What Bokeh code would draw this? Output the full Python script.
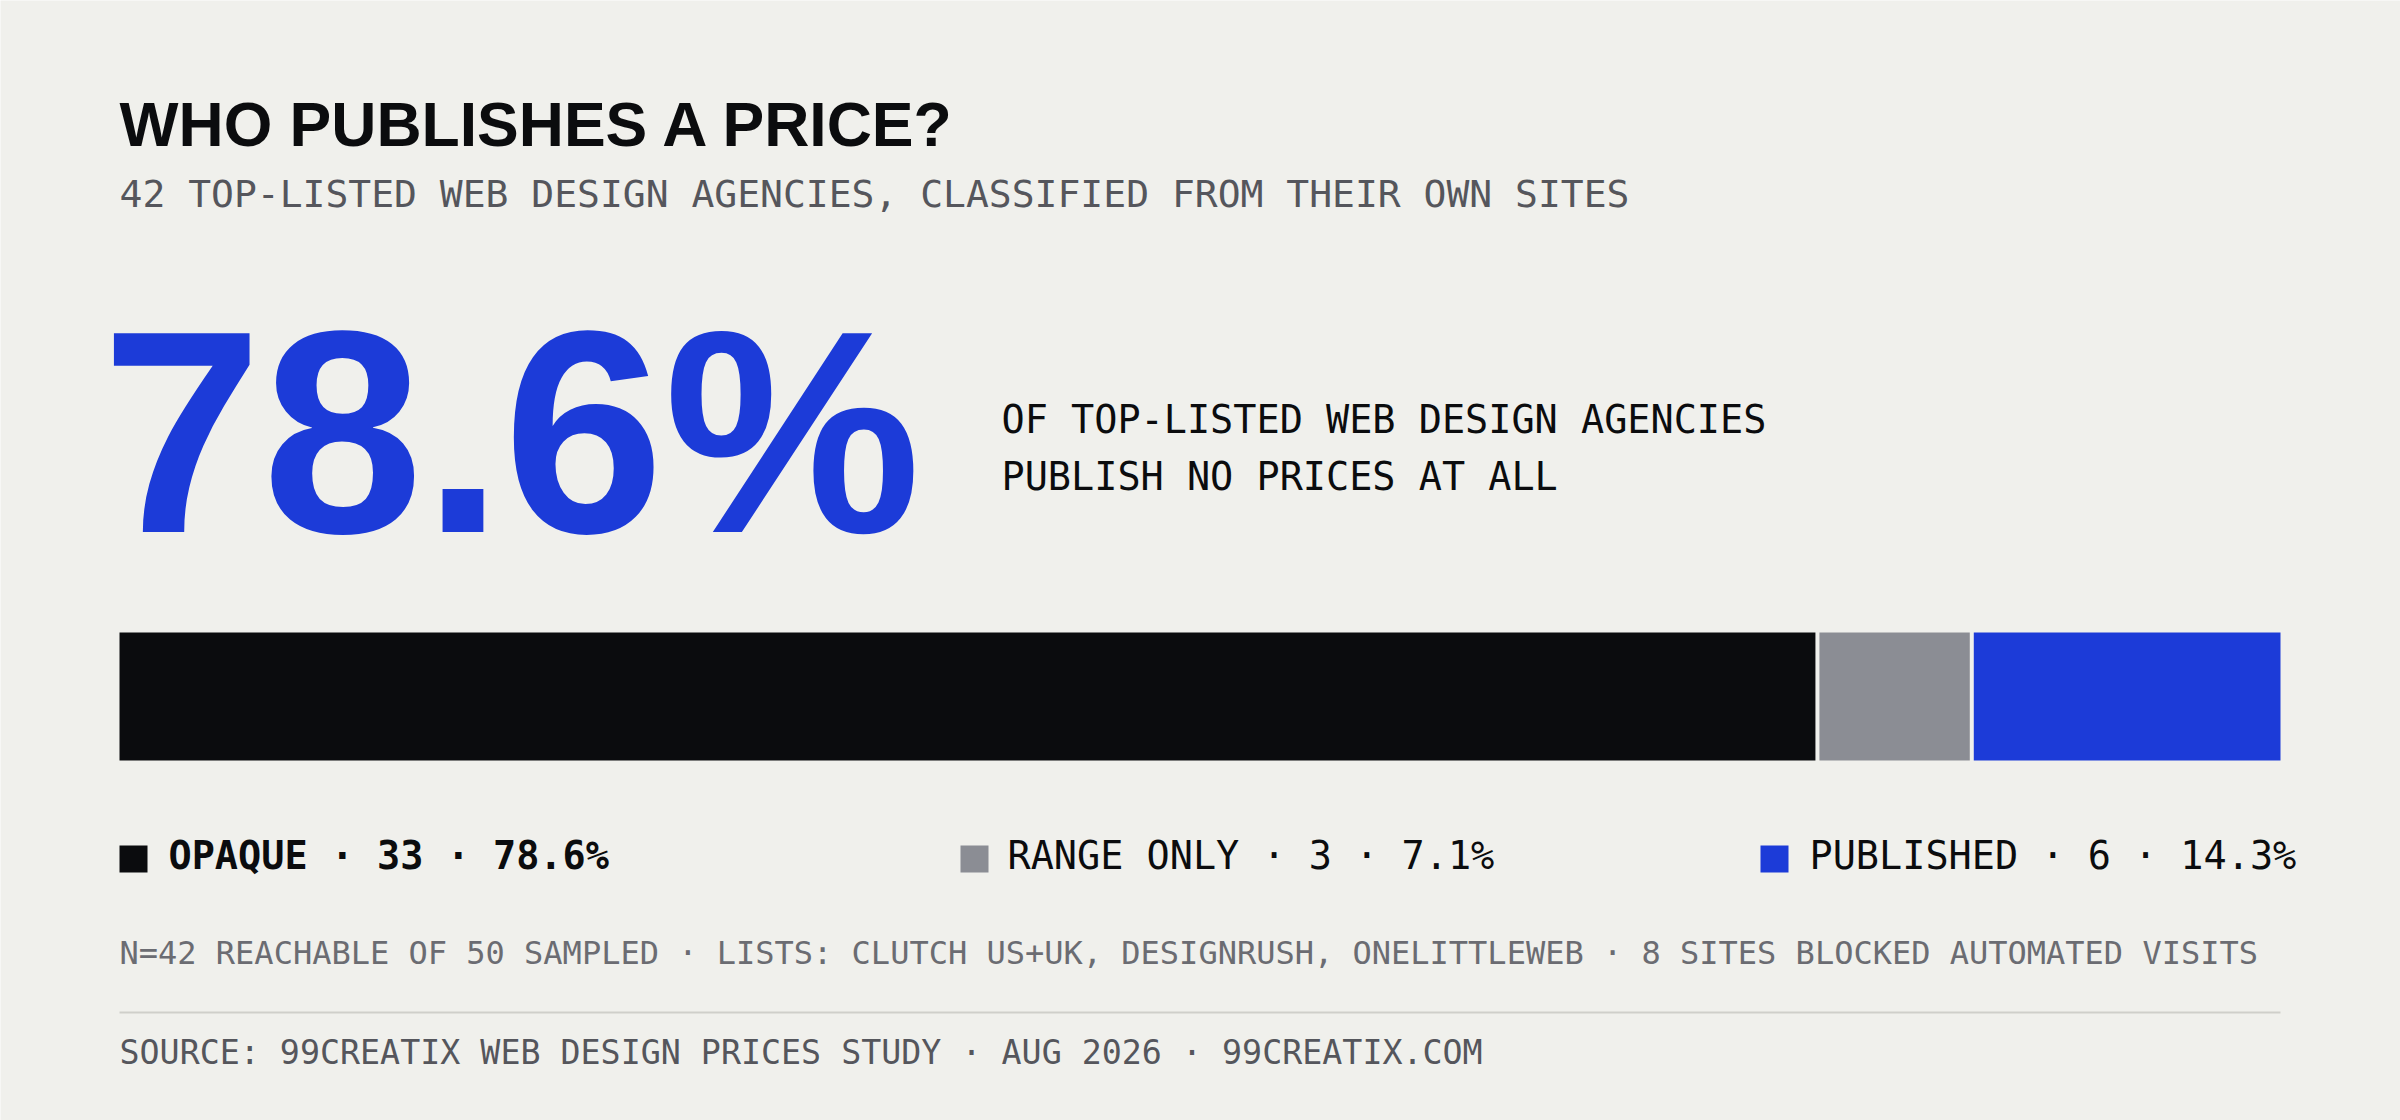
import re
from bokeh.plotting import figure
from bokeh.models import Range1d
from bokeh.core.properties import value
from bokeh.embed import file_html
from bokeh.resources import INLINE

# ---------------- data ----------------
categories = ["OPAQUE", "RANGE ONLY", "PUBLISHED"]
counts = [33, 3, 6]
total = 42
sampled = 50
colors = ["#0b0c0e", "#8b8d94", "#1c3bd8"]

title_text = "WHO PUBLISHES A PRICE?"
subtitle_text = "42 TOP-LISTED WEB DESIGN AGENCIES, CLASSIFIED FROM THEIR OWN SITES"
headline_lines = ["OF TOP-LISTED WEB DESIGN AGENCIES", "PUBLISH NO PRICES AT ALL"]
note_text = ("N=42 REACHABLE OF 50 SAMPLED \u00b7 LISTS: CLUTCH US+UK, DESIGNRUSH, "
             "ONELITTLEWEB \u00b7 8 SITES BLOCKED AUTOMATED VISITS")
source_text = "SOURCE: 99CREATIX WEB DESIGN PRICES STUDY \u00b7 AUG 2026 \u00b7 99CREATIX.COM"

pcts = [round(100.0 * c / total, 1) for c in counts]
lefts = [sum(counts[:i]) for i in range(len(counts))]
rights = [sum(counts[:i + 1]) for i in range(len(counts))]
legend_labels = [f"{c} \u00b7 {n} \u00b7 {p}%" for c, n, p in zip(categories, counts, pcts)]

BG = "#f0f0ec"
MONO = "DejaVu Sans Mono"
SANS = "Liberation Sans"
K = 0.37  # baseline correction (fraction of font size)

W, H = 2400, 1120
p = figure(width=W, height=H, output_backend="svg", toolbar_location=None,
           x_range=Range1d(0, W), y_range=Range1d(H, 0),
           min_border=0, background_fill_color=BG, border_fill_color=BG)
p.axis.visible = False
p.grid.visible = False
p.outline_line_color = None

# bar share range: 0..total maps onto page x 119..2280
bx0, bx1 = 119, 2280
span = bx1 - bx0
start = -bx0 / span * total
end = start + W / span * total
p.extra_x_ranges = {"share": Range1d(start, end)}


def txt(x, base, s, size, color, font=MONO, bold=False):
    p.text(x=x, y=[b - K * size for b in base], text=s, text_font=value(font),
           text_font_style="bold" if bold else "normal",
           text_font_size=f"{size}px", text_color=color, text_baseline="alphabetic")


# ---------------- texts ----------------
txt([119], [147], [title_text], 62.5, "#0b0c0e", font=SANS, bold=True)
txt([119], [208], [subtitle_text], 38, "#55565c")

big = f"{pcts[0]}%"
txt([101], [538], [big], 289, colors[2], font=SANS, bold=True)

txt([1001, 1001], [433, 490], headline_lines, 38.5, "#0b0c0e")

# ---------------- stacked bar ----------------
p.quad(left=lefts, right=rights, top=632, bottom=760, fill_color=colors,
       line_color=None, x_range_name="share")
p.segment(x0=rights[:-1], x1=rights[:-1], y0=628, y1=764, line_color=BG,
          line_width=4, x_range_name="share")

# ---------------- legend ----------------
sq_x = [119, 960, 1760]
tx_x = [168, 1007, 1809]
for i in range(len(categories)):
    p.quad(left=[sq_x[i]], right=[sq_x[i] + 28], top=[845], bottom=[872],
           fill_color=colors[i], line_color=None)
    txt([tx_x[i]], [869], [legend_labels[i]], 38.5, "#0b0c0e", bold=(i == 0))

# ---------------- footnotes ----------------
txt([119], [964], [note_text], 32, "#6b6c72")
p.segment(x0=[119], x1=[2280], y0=[1012], y1=[1012], line_color="#cfcfca", line_width=2)
txt([119], [1064], [source_text], 33.3, "#55565c")

html = file_html(p, INLINE)
html = re.sub(r"<body([^>]*)>", r'<body\1 style="margin:0;background:%s">' % BG, html, count=1)
open("out.html", "w").write(html)
